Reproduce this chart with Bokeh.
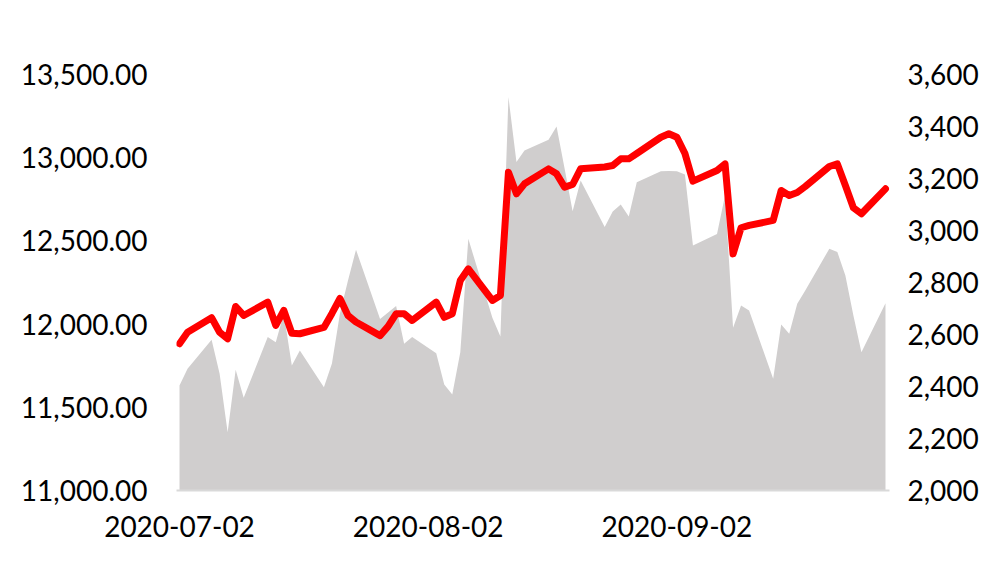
import pandas as pd
from bokeh.plotting import figure
from bokeh.models import (Range1d, LinearAxis, FixedTicker, NumeralTickFormatter,
                          DatetimeTickFormatter, ColumnDataSource)
from bokeh.embed import file_html
from bokeh.resources import INLINE

# ---- data ----
dates = [
    "2020-07-02", "2020-07-03", "2020-07-06", "2020-07-07", "2020-07-08", "2020-07-09", "2020-07-10",
    "2020-07-13", "2020-07-14", "2020-07-15", "2020-07-16", "2020-07-17",
    "2020-07-20", "2020-07-21", "2020-07-22", "2020-07-23", "2020-07-24",
    "2020-07-27", "2020-07-28", "2020-07-29", "2020-07-30", "2020-07-31",
    "2020-08-03", "2020-08-04", "2020-08-05", "2020-08-06", "2020-08-07",
    "2020-08-10", "2020-08-11", "2020-08-12", "2020-08-13", "2020-08-14",
    "2020-08-17", "2020-08-18", "2020-08-19", "2020-08-20", "2020-08-21",
    "2020-08-24", "2020-08-25", "2020-08-26", "2020-08-27", "2020-08-28",
    "2020-08-31", "2020-09-01", "2020-09-02", "2020-09-03", "2020-09-04",
    "2020-09-07", "2020-09-08", "2020-09-09", "2020-09-10", "2020-09-11",
    "2020-09-14", "2020-09-15", "2020-09-16", "2020-09-17", "2020-09-18",
    "2020-09-21", "2020-09-22", "2020-09-23", "2020-09-24", "2020-09-25",
    "2020-09-28",
]

line_values = [
    11882, 11951, 12038, 11951, 11912, 12106, 12052,
    12132, 11992, 12082, 11945, 11942,
    11980, 12064, 12154, 12052, 12013,
    11931, 11986, 12062, 12062, 12022,
    12132, 12041, 12062, 12262, 12332,
    12142, 12172, 12913, 12783, 12843,
    12933, 12903, 12823, 12839, 12933,
    12944, 12953, 12993, 12993, 13025,
    13123, 13144, 13123, 13025, 12859,
    12923, 12963, 12422, 12579, 12593,
    12623, 12803, 12773, 12791, 12827,
    12947, 12963, 12833, 12699, 12663,
    12813,
]

area_values = [
    2404, 2468, 2580, 2449, 2224, 2464, 2357,
    2590, 2570, 2680, 2481, 2538,
    2397, 2488, 2681, 2808, 2926,
    2660, 2685, 2710, 2564, 2590,
    2528, 2408, 2369, 2532, 2968,
    2664, 2592, 3513, 3263, 3308,
    3349, 3400, 3238, 3074, 3192,
    3013, 3073, 3100, 3054, 3186,
    3228, 3229, 3228, 3215, 2942,
    2987, 3135, 2626, 2712, 2692,
    2430, 2638, 2603, 2718, 2769,
    2930, 2917, 2827, 2673, 2532,
    2720,
]

x_tick_labels = ["2020-07-02", "2020-08-02", "2020-09-02"]
left_ticks = [11000, 11500, 12000, 12500, 13000, 13500]
right_ticks = [2000, 2200, 2400, 2600, 2800, 3000, 3200, 3400, 3600]

# ---- build ----
x = pd.to_datetime(dates)
area_base = [right_ticks[0]] * len(area_values)
src = ColumnDataSource(dict(x=x, line=line_values, area=area_values, base=area_base))

x_start = x[0] - pd.Timedelta(hours=9)
x_end = x[-1] + pd.Timedelta(hours=12)

FONT = "Lato"
FSIZE = "28px"

p = figure(width=981, height=566, x_axis_type="datetime",
           x_range=Range1d(x_start, x_end),
           y_range=Range1d(left_ticks[0], left_ticks[-1]),
           output_backend="svg", toolbar_location=None,
           min_border_left=176, min_border_right=88,
           min_border_top=74, min_border_bottom=76)
p.outline_line_color = None
p.xgrid.visible = False
p.ygrid.visible = False
p.background_fill_color = "white"
p.border_fill_color = "white"

p.extra_y_ranges = {"right": Range1d(right_ticks[0], right_ticks[-1])}

p.varea(x="x", y1="base", y2="area", source=src, y_range_name="right",
        fill_color="#d0cece", fill_alpha=1.0)
p.line(x="x", y="line", source=src, line_color="#ff0000", line_width=7,
       line_join="round", line_cap="round")


def style_axis(ax, standoff):
    ax.major_tick_line_color = None
    ax.minor_tick_line_color = None
    ax.major_tick_out = 0
    ax.major_tick_in = 0
    ax.minor_tick_out = 0
    ax.minor_tick_in = 0
    ax.major_label_text_font = FONT
    ax.major_label_text_font_size = FSIZE
    ax.major_label_text_color = "#000000"
    ax.major_label_standoff = standoff


# x axis
xa = p.xaxis[0]
xa.ticker = FixedTicker(ticks=[pd.Timestamp(t).value // 10**6 for t in x_tick_labels])
fmt = "%Y-%m-%d"
xa.formatter = DatetimeTickFormatter(milliseconds=fmt, seconds=fmt, minsec=fmt, minutes=fmt,
                                     hourmin=fmt, hours=fmt, days=fmt, months=fmt, years=fmt)
xa.axis_line_color = "#d9d9d9"
xa.axis_line_width = 2
style_axis(xa, 25)

# left axis
ya = p.yaxis[0]
ya.ticker = FixedTicker(ticks=left_ticks)
ya.formatter = NumeralTickFormatter(format="0,0.00")
ya.axis_line_color = None
style_axis(ya, 29)

# right axis
ra = LinearAxis(y_range_name="right")
ra.ticker = FixedTicker(ticks=right_ticks)
ra.formatter = NumeralTickFormatter(format="0,0")
ra.axis_line_color = None
style_axis(ra, 18)
p.add_layout(ra, "right")

open("out.html", "w").write(file_html(p, INLINE))
